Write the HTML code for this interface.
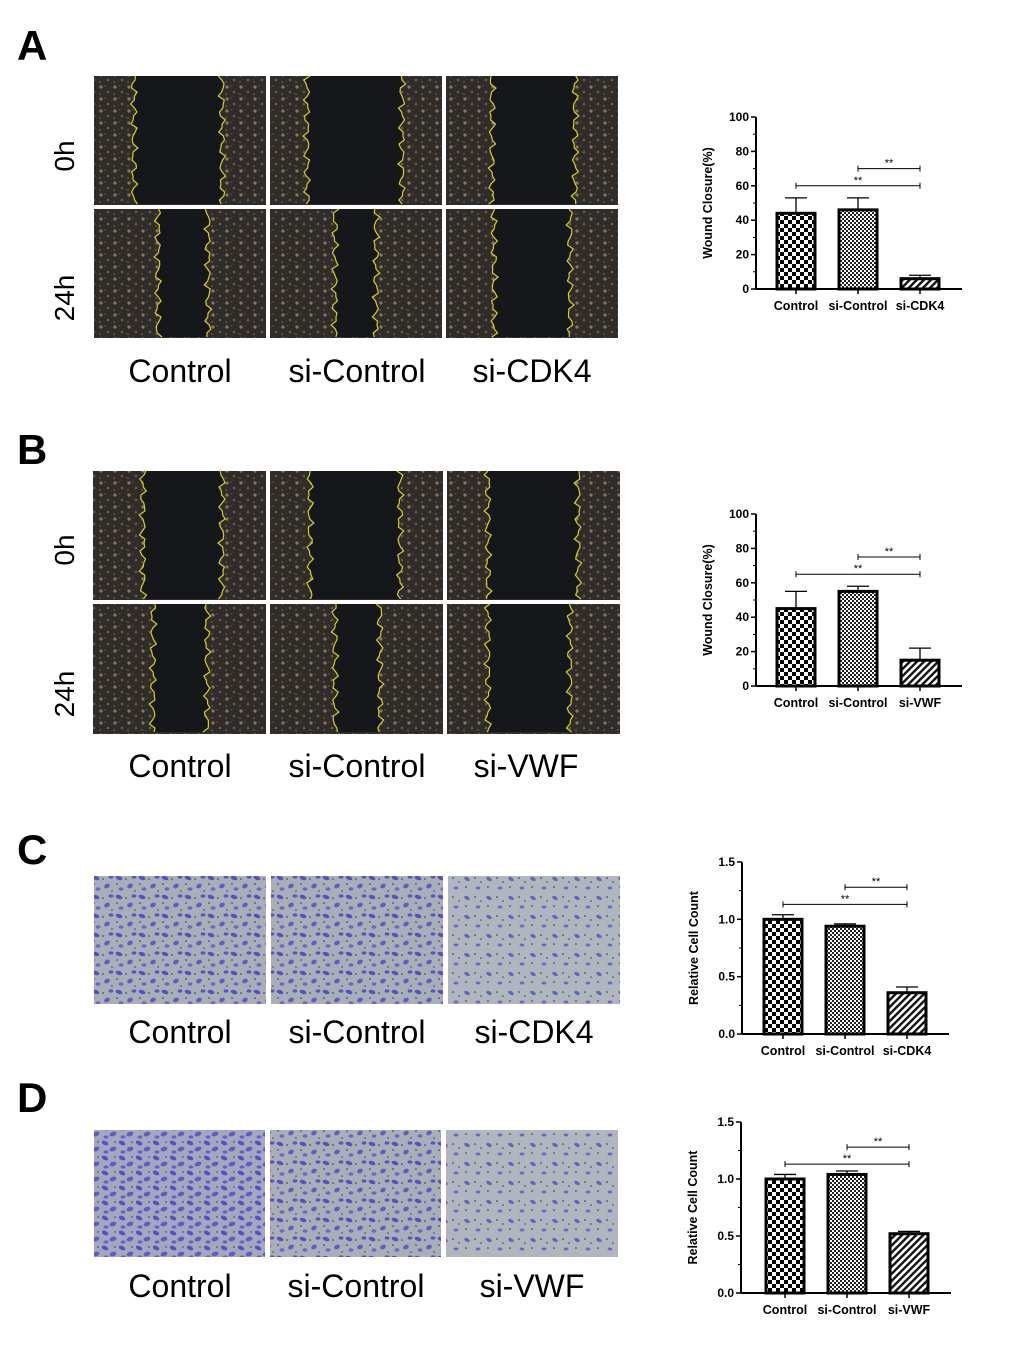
<!DOCTYPE html>
<html><head><meta charset="utf-8">
<style>
body{margin:0;background:#fff;}
svg{display:block;font-family:"Liberation Sans",Arial,sans-serif;}
</style></head>
<body>
<svg id="fig" width="1020" height="1351" viewBox="0 0 1020 1351" xmlns="http://www.w3.org/2000/svg">
<defs>
  <pattern id="checkBig" width="8" height="8" patternUnits="userSpaceOnUse">
    <rect width="8" height="8" fill="#fff"/><rect width="4" height="4" fill="#000"/><rect x="4" y="4" width="4" height="4" fill="#000"/>
  </pattern>
  <pattern id="checkSmall" width="4" height="4" patternUnits="userSpaceOnUse">
    <rect width="4" height="4" fill="#fff"/><rect width="2" height="2" fill="#222"/><rect x="2" y="2" width="2" height="2" fill="#222"/>
  </pattern>
  <pattern id="hatch" width="5" height="5" patternUnits="userSpaceOnUse" patternTransform="rotate(45)">
    <rect width="5" height="5" fill="#fff"/><rect width="2.4" height="5" fill="#111"/>
  </pattern>
  <pattern id="cellsDark" width="14" height="12" patternUnits="userSpaceOnUse">
    <rect width="14" height="12" fill="#2f2c29"/>
    <circle cx="3" cy="3" r="1.6" fill="#8a7560"/><circle cx="10" cy="8" r="1.3" fill="#6b5b4b"/>
    <circle cx="7" cy="2" r="0.9" fill="#54493e"/><circle cx="2" cy="10" r="1" fill="#5e5245"/>
  </pattern>
  <pattern id="cellsPurple" width="23" height="19" patternUnits="userSpaceOnUse">
    <rect width="23" height="19" fill="#a9afb8"/>
    <ellipse cx="4" cy="4" rx="3.5" ry="2" fill="#5a4ec4" transform="rotate(20 4 4)"/>
    <ellipse cx="15" cy="12" rx="3" ry="2.2" fill="#6559c6" transform="rotate(-30 15 12)"/>
    <ellipse cx="19" cy="3" rx="2.4" ry="1.6" fill="#5d52c2"/>
    <ellipse cx="6" cy="15" rx="2.5" ry="1.8" fill="#7065c8"/>
    <circle cx="11" cy="5" r="0.8" fill="#333"/><circle cx="2" cy="10" r="0.8" fill="#333"/><circle cx="20" cy="17" r="0.8" fill="#444"/>
  </pattern>
  <pattern id="cellsPurpleDense" width="17" height="15" patternUnits="userSpaceOnUse">
    <rect width="17" height="15" fill="#a3a8bf"/>
    <ellipse cx="3" cy="3" rx="3.5" ry="2" fill="#5a4ec6" transform="rotate(25 3 3)"/>
    <ellipse cx="11" cy="9" rx="3.5" ry="2.2" fill="#6558c9" transform="rotate(-20 11 9)"/>
    <ellipse cx="4" cy="12" rx="2.5" ry="1.6" fill="#6a5ecb"/>
    <circle cx="13" cy="2" r="0.7" fill="#333"/>
  </pattern>
  <pattern id="cellsPurpleSparse" width="22" height="19" patternUnits="userSpaceOnUse">
    <rect width="22" height="19" fill="#b0b6be"/>
    <ellipse cx="5" cy="5" rx="3" ry="1.8" fill="#6a5fc6" transform="rotate(30 5 5)"/>
    <ellipse cx="16" cy="14" rx="2.4" ry="1.5" fill="#7368c6"/>
    <circle cx="13" cy="4" r="0.8" fill="#333"/><circle cx="4" cy="13" r="0.8" fill="#333"/><circle cx="19" cy="8" r="0.8" fill="#444"/>
  </pattern>
</defs>
<g id="photos"></g>
<g id="charts"></g>
<g id="labels">
  <text x="17" y="60" font-size="42" font-weight="bold">A</text>
  <text x="17" y="464" font-size="42" font-weight="bold">B</text>
  <text x="17" y="864" font-size="42" font-weight="bold">C</text>
  <text x="17" y="1112" font-size="42" font-weight="bold">D</text>
  <text transform="translate(74,156) rotate(-90)" text-anchor="middle" font-size="28">0h</text>
  <text transform="translate(74,298) rotate(-90)" text-anchor="middle" font-size="28">24h</text>
  <text transform="translate(74,550) rotate(-90)" text-anchor="middle" font-size="28">0h</text>
  <text transform="translate(74,694) rotate(-90)" text-anchor="middle" font-size="28">24h</text>
</g>
</svg>
<script>
const NS="http://www.w3.org/2000/svg";
function mk(tag,attrs,parent){const e=document.createElementNS(NS,tag);for(const k in attrs)e.setAttribute(k,attrs[k]);parent.appendChild(e);return e;}
const photos=document.getElementById('photos');
const labels=document.getElementById('labels');

const woundA=[[94,76,172,129,134,222],[270,76,172,129,307,402],[446,76,172,129,492,575],
              [94,209,172,129,158,208],[270,209,172,129,335,376],[446,209,172,129,494,570]];
const woundB=[[93,471,173,129,143,222],[270,471,173,129,310,400],[447,471,173,129,488,578],
              [93,604,173,130,153,207],[270,604,173,130,335,380],[447,604,173,130,488,570]];
function wobble(x,y0,y1,amp,seed){let p=[];for(let y=y0;y<=y1;y+=4){p.push((x+amp*Math.sin(y*0.35+seed)+amp*0.6*Math.sin(y*0.9+seed*2)).toFixed(1)+','+y);}return p;}
function wound(arr,tag){arr.forEach((d,i)=>{
  const g=mk('g',{},photos);
  
  
  mk('rect',{x:d[0],y:d[1],width:d[2],height:d[3],fill:'url(#cellsDark)'},g);
  const L=wobble(d[4],d[1],d[1]+d[3],2.5,i),R=wobble(d[5],d[1],d[1]+d[3],2.5,i+3);
  mk('polygon',{points:L.concat(R.slice().reverse()).join(' '),fill:'#15171a'},g);
  mk('polyline',{points:L.join(' '),fill:'none',stroke:'#d8d020','stroke-width':1.2},g);
  mk('polyline',{points:R.join(' '),fill:'none',stroke:'#d8d020','stroke-width':1.2},g);
});}
wound(woundA,'a');wound(woundB,'b');
const transC=[[94,876,172,128,'cellsPurple'],[271,876,172,128,'cellsPurple'],[448,876,172,128,'cellsPurpleSparse']];
const transD=[[94,1130,171,127,'cellsPurpleDense'],[270,1130,171,127,'cellsPurple'],[446,1130,172,127,'cellsPurpleSparse']];
[[transC,'c'],[transD,'d']].forEach(([arr,tag])=>arr.forEach((d,i)=>{
  const r=mk('rect',{x:d[0],y:d[1],width:d[2],height:d[3],fill:'url(#'+d[4]+')'},photos);
  
  
}));
const colLabels=[[180,382,'Control'],[357,382,'si-Control'],[532,382,'si-CDK4'],
  [180,777,'Control'],[357,777,'si-Control'],[526,777,'si-VWF'],
  [180,1043,'Control'],[357,1043,'si-Control'],[534,1043,'si-CDK4'],
  [180,1297,'Control'],[356,1297,'si-Control'],[532,1297,'si-VWF']];
colLabels.forEach((c,i)=>{const t=mk('text',{x:c[0],y:c[1],'text-anchor':'middle','font-size':32},labels);t.textContent=c[2];
  
  });

// ---- chart data ----
const catsA=['Control','si-Control','si-CDK4'];
const valsA=[44,46,6];
const errA=[9,7,2];
const sigA=[70,60];
const catsB=['Control','si-Control','si-VWF'];
const valsB=[45,55,15];
const errB=[10,3,7];
const sigB=[75,65];
const catsC=['Control','si-Control','si-CDK4'];
const valsC=[1.0,0.94,0.36];
const errC=[0.04,0.02,0.05];
const sigC=[1.28,1.13];
const catsD=['Control','si-Control','si-VWF'];
const valsD=[1.0,1.04,0.52];
const errD=[0.04,0.03,0.02];
const sigD=[1.28,1.13];
const ticksPct=[0,20,40,60,80,100];
const ticksRel=[0,0.5,1.0,1.5];
const ticksRelLabels=['0.0','0.5','1.0','1.5'];

const fills=['url(#checkBig)','url(#checkSmall)','url(#hatch)'];
const charts=document.getElementById('charts');
function chart(name,ax,y0,ymaxPx,ymax,xs,cats,vals,errs,sig,ticks,tickLbls,title){
  const g=mk('g',{},charts);
  
  
  const Y=v=>y0-(v/ymax)*(y0-ymaxPx);
  const X=i=>xs[0]+i*(xs[1]-xs[0]);
  const axEnd=X(2)+42;
  mk('line',{x1:ax,y1:y0,x2:ax,y2:ymaxPx,stroke:'#000','stroke-width':2},g);
  mk('line',{x1:ax,y1:y0,x2:axEnd,y2:y0,stroke:'#000','stroke-width':2},g);
  ticks.forEach((t,i)=>{
    mk('line',{x1:ax-5,y1:Y(t),x2:ax,y2:Y(t),stroke:'#000','stroke-width':1.5},g);
    const tx=mk('text',{x:ax-7,y:Y(t)+4,'text-anchor':'end','font-size':12,'font-weight':'bold'},g);
    tx.textContent=tickLbls[i];
    
    
    if(i<ticks.length-1){const m=(t+ticks[i+1])/2;mk('line',{x1:ax-3,y1:Y(m),x2:ax,y2:Y(m),stroke:'#000','stroke-width':1},g);}
  });
  const tt=mk('text',{transform:`translate(${ax-44},${(y0+ymaxPx)/2}) rotate(-90)`,'text-anchor':'middle','font-size':12.5,'font-weight':'bold'},g);
  tt.textContent=title;
  
  
  cats.forEach((c,i)=>{
    const cx=X(i);
    const eb=mk('line',{x1:cx,y1:Y(vals[i]),x2:cx,y2:Y(vals[i]+errs[i]),stroke:'#000','stroke-width':1.3},g);
    
    
    mk('line',{x1:cx-11,y1:Y(vals[i]+errs[i]),x2:cx+11,y2:Y(vals[i]+errs[i]),stroke:'#000','stroke-width':1.3},g);
    const b=mk('rect',{x:cx-19,y:Y(vals[i]),width:38,height:y0-Y(vals[i]),fill:fills[i],stroke:'#000','stroke-width':3},g);
    
    
    mk('line',{x1:cx,y1:y0,x2:cx,y2:y0+5,stroke:'#000','stroke-width':1.5},g);
    const lt=mk('text',{x:cx,y:y0+21,'text-anchor':'middle','font-size':12.5,'font-weight':'bold'},g);
    lt.textContent=c;
    
    
  });
  [[1,sig[0]],[0,sig[1]]].forEach(([from,v])=>{
    const y=Y(v);
    const s=mk('line',{x1:X(from),y1:y,x2:X(2),y2:y,stroke:'#000','stroke-width':1},g);
    
    
    mk('line',{x1:X(from),y1:y-3,x2:X(from),y2:y+3,stroke:'#000','stroke-width':1},g);
    mk('line',{x1:X(2),y1:y-3,x2:X(2),y2:y+3,stroke:'#000','stroke-width':1},g);
    const st=mk('text',{x:(X(from)+X(2))/2,y:y-2,'text-anchor':'middle','font-size':11},g);
    st.textContent='**';
  });
}
chart('chart-a-wound-closure',756,289,117,100,[796,858],catsA,valsA,errA,sigA,ticksPct,ticksPct.map(String),'Wound Closure(%)');
chart('chart-b-wound-closure',756,686,514,100,[796,858],catsB,valsB,errB,sigB,ticksPct,ticksPct.map(String),'Wound Closure(%)');
chart('chart-c-cell-count',742,1034,862,1.5,[783,845],catsC,valsC,errC,sigC,ticksRel,ticksRelLabels,'Relative Cell Count');
chart('chart-d-cell-count',741,1293,1122,1.5,[785,847],catsD,valsD,errD,sigD,ticksRel,ticksRelLabels,'Relative Cell Count');
</script>
</body></html>
